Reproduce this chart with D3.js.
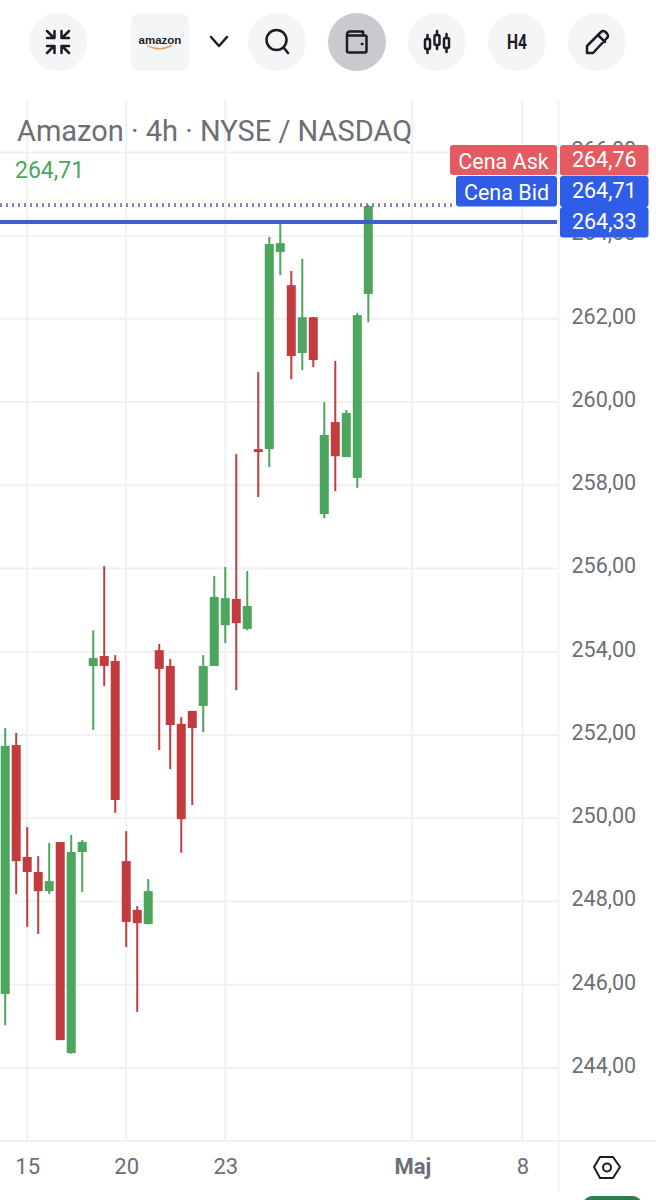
<!DOCTYPE html>
<html>
<head>
<meta charset="utf-8">
<script src="https://cdn.jsdelivr.net/npm/d3@7"></script>
<style>
html, body { margin: 0; padding: 0; background: #fff; }
svg { display: block; font-family: Roboto, sans-serif; }
</style>
</head>
<body>
<svg id="chart" width="656" height="1200"></svg>
<script>
// candles
var opens  = [245.78,251.76,249.07,248.71,248.25,249.43,244.36,249.19,253.66,253.90,253.78,248.97,247.80,247.46,254.04,253.66,252.27,252.58,252.70,253.66,254.64,255.27,254.55,258.87,258.87,263.61,262.81,261.18,262.04,257.31,259.52,258.68,258.18,262.60];
var closes = [251.74,248.97,248.71,248.25,248.49,244.67,249.19,249.43,253.85,253.66,250.44,247.51,247.48,248.25,253.59,252.24,249.98,252.17,253.66,255.32,255.29,254.69,255.10,258.80,263.80,263.82,261.11,262.04,261.01,259.21,258.70,259.74,262.09,264.71];
var highs  = [252.17,252.05,249.79,249.09,249.41,249.43,249.60,249.48,254.52,256.06,253.92,249.69,247.89,248.54,254.19,253.83,252.43,252.58,253.92,255.82,256.04,258.75,255.94,260.72,263.97,264.35,263.15,263.44,262.04,260.00,260.99,259.81,262.14,264.74];
var lows   = [245.03,248.18,247.39,247.22,248.18,244.67,244.34,248.23,252.12,253.18,250.13,246.91,245.35,247.45,251.64,251.18,249.17,250.32,252.07,253.66,254.21,253.08,254.52,257.72,258.44,263.05,260.55,260.77,260.84,257.21,257.86,258.68,257.94,261.92];

var priceTicks = [244,246,248,250,252,254,256,258,260,262,264,266];
var dateTickIdx = [2,11,20,37,47];
var dateTickLabels = ['15','20','23','Maj','8'];

var askPrice = 264.76;
var bidPrice = 264.71;
var lastPrice = 264.33;

var GREEN = '#4ca65d', RED = '#c23c3f', GRID = '#f1f1f3', TXT = '#6b6f76';
var TAG_RED = '#e45c62', TAG_BLUE = '#2f5de8', INK = '#1c1d21';

var svg = d3.select('#chart');
var plEU = d3.formatLocale({decimal: ',', thousands: ' ', grouping: [3], currency: ['', '']});
var fmt = plEU.format('.2f');

var y = d3.scaleLinear().domain([244, 266]).range([1068, 152.4]);
var x = d3.scaleLinear().domain([0, 33]).range([5.2, 368.3]);

var plotRight = 558.5, plotTop = 99, plotBottom = 1141;

/* ------- GRID -------*/

svg.append('g').selectAll('line').data(priceTicks).enter().append('line')
    .attr('x1', 0).attr('x2', plotRight)
    .attr('y1', function (d) { return y(d); }).attr('y2', function (d) { return y(d); })
    .attr('stroke', GRID).attr('stroke-width', 2);

svg.append('g').selectAll('line').data(dateTickIdx).enter().append('line')
    .attr('x1', function (d) { return x(d); }).attr('x2', function (d) { return x(d); })
    .attr('y1', plotTop).attr('y2', plotBottom)
    .attr('stroke', GRID).attr('stroke-width', 2);

svg.append('line').attr('x1', 0).attr('x2', 656).attr('y1', plotBottom).attr('y2', plotBottom)
    .attr('stroke', GRID).attr('stroke-width', 2);
svg.append('line').attr('x1', plotRight).attr('x2', plotRight).attr('y1', plotTop).attr('y2', 1192)
    .attr('stroke', GRID).attr('stroke-width', 1.5);

/* ------- AXES -------*/

var yAxis = d3.axisRight(y).tickValues(priceTicks).tickFormat(fmt).tickSize(0).tickPadding(13);
var gy = svg.append('g').attr('transform', 'translate(' + plotRight + ',0)').call(yAxis);
gy.select('.domain').remove();
gy.selectAll('text').attr('fill', TXT).attr('font-size', 21.5).attr('font-family', 'Roboto, sans-serif')
    .attr('dy', '0.2em');

var xAxis = d3.axisBottom(x).tickValues(dateTickIdx)
    .tickFormat(function (d, i) { return dateTickLabels[i]; }).tickSize(0).tickPadding(17);
var gx = svg.append('g').attr('transform', 'translate(0,' + plotBottom + ')').call(xAxis);
gx.select('.domain').remove();
gx.selectAll('text').attr('fill', TXT).attr('font-size', 22).attr('font-family', 'Roboto, sans-serif')
    .attr('font-weight', function (d, i) { return dateTickLabels[i] == 'Maj' ? 700 : 400; });

/* ------- CANDLES -------*/

var bars = svg.append('g').selectAll('g').data(opens).enter().append('g');
bars.append('line')
    .attr('x1', function (d, i) { return x(i); }).attr('x2', function (d, i) { return x(i); })
    .attr('y1', function (d, i) { return y(highs[i]); }).attr('y2', function (d, i) { return y(lows[i]); })
    .attr('stroke', function (d, i) { return closes[i] >= d ? GREEN : RED; })
    .attr('stroke-width', 2);
bars.append('rect')
    .attr('x', function (d, i) { return x(i) - 4.5; })
    .attr('width', 9)
    .attr('y', function (d, i) { return y(Math.max(d, closes[i])); })
    .attr('height', function (d, i) { return Math.abs(y(d) - y(closes[i])); })
    .attr('fill', function (d, i) { return closes[i] >= d ? GREEN : RED; });

/* ------- PRICE LINES -------*/

svg.append('line').attr('x1', 0).attr('x2', 456).attr('y1', y(askPrice)).attr('y2', y(askPrice))
    .attr('stroke', '#b5525e').attr('stroke-width', 1.5).attr('stroke-dasharray', '2 4');
svg.append('line').attr('x1', 0).attr('x2', 456).attr('y1', y(bidPrice)).attr('y2', y(bidPrice))
    .attr('stroke', '#4a5bb8').attr('stroke-width', 1.5).attr('stroke-dasharray', '2 4');
svg.append('line').attr('x1', 0).attr('x2', 557).attr('y1', y(lastPrice)).attr('y2', y(lastPrice))
    .attr('stroke', '#3e5fd0').attr('stroke-width', 4);

// price tags
function tag(x0, x1, y0, y1, fill, label, dy) {
    svg.append('rect').attr('x', x0).attr('y', y0).attr('width', x1 - x0).attr('height', y1 - y0)
        .attr('rx', 3).attr('fill', fill);
    svg.append('text').attr('x', (x0 + x1) / 2).attr('y', (y0 + y1) / 2 + dy)
        .attr('text-anchor', 'middle').attr('fill', '#fff').attr('font-size', 21.5).text(label);
}
tag(450, 557, 145, 175, TAG_RED, 'Cena Ask', 8.5);
tag(456, 557, 176, 206.5, TAG_BLUE, 'Cena Bid', 8.5);
tag(560, 648.5, 145, 175.5, TAG_RED, fmt(askPrice), 6.5);
tag(560, 648.5, 207, 237.5, TAG_BLUE, fmt(lastPrice), 6.5);
tag(560, 648.5, 176, 207, TAG_BLUE, fmt(bidPrice), 6.5);

/* ------- TITLE -------*/

svg.append('text').attr('x', 17).attr('y', 141).attr('fill', TXT).attr('font-size', 29)
    .text('Amazon · 4h · NYSE / NASDAQ');
svg.append('text').attr('x', 15).attr('y', 178).attr('fill', GREEN).attr('font-size', 23)
    .text(fmt(closes[closes.length - 1]));

/* ------- TOOLBAR -------*/

function icon(cx, fill) {
    svg.append('circle').attr('cx', cx).attr('cy', 42).attr('r', 29).attr('fill', fill || '#f4f5f7');
    return svg.append('g').attr('transform', 'translate(' + cx + ',42)')
        .attr('fill', 'none').attr('stroke', INK).attr('stroke-width', 2.5)
        .attr('stroke-linecap', 'round').attr('stroke-linejoin', 'round');
}

// collapse
var ic = icon(58);
ic.append('path').attr('d', 'M-11,-11 L-4,-4 M-11,-4 H-3.5 V-11 M11,-11 L4,-4 M11,-4 H3.5 V-11 M-11,11 L-4,4 M-11,4 H-3.5 V11 M11,11 L4,4 M11,4 H3.5 V11');

// amazon logo
svg.append('rect').attr('x', 131).attr('y', 13).attr('width', 58).attr('height', 58).attr('rx', 9).attr('fill', '#f4f5f7');
svg.append('text').attr('x', 160).attr('y', 44).attr('text-anchor', 'middle').attr('font-size', 11.5)
    .attr('font-weight', 700).attr('font-family', '"Liberation Sans", sans-serif').attr('fill', '#222').text('amazon');
svg.append('path').attr('d', 'M147,45.5 Q159,52 172,45.5').attr('fill', 'none').attr('stroke', '#e8a04a').attr('stroke-width', 1.4);

// chevron
svg.append('path').attr('d', 'M211,37 L219,46 L227,37').attr('fill', 'none').attr('stroke', INK)
    .attr('stroke-width', 2.5).attr('stroke-linecap', 'round').attr('stroke-linejoin', 'round');

// search
ic = icon(277);
ic.append('circle').attr('cx', -0.5).attr('cy', -2).attr('r', 10);
ic.append('path').attr('d', 'M7,6 L11,11');

// wallet
ic = icon(357, '#c9cacd');
ic.append('path').attr('d', 'M-10,-8 V9 Q-10,10.5 -8,10.5 H8 Q9.5,10.5 9.5,9 V-5 Q9.5,-6.5 8,-6.5 H-10 M-10,-7 Q-10,-10.5 -7,-10.5 H6 V-6.5');
ic.append('circle').attr('cx', 5).attr('cy', 2).attr('r', 1).attr('fill', INK).attr('stroke-width', 1);

// candle icon
ic = icon(437);
[[-9.5, 2], [0, -2], [9.5, 1]].forEach(function (c) {
    ic.append('rect').attr('x', c[0] - 2.5).attr('y', c[1] - 5).attr('width', 5).attr('height', 10).attr('rx', 1.5);
    ic.append('path').attr('d', 'M' + c[0] + ',' + (c[1] - 5) + ' v-4 M' + c[0] + ',' + (c[1] + 5) + ' v4');
});

// timeframe
icon(517);
svg.append('text').attr('x', 517).attr('y', 49).attr('text-anchor', 'middle').attr('font-size', 21)
    .attr('font-weight', 700).attr('font-family', 'Roboto, sans-serif').attr('textLength', 20).attr('lengthAdjust', 'spacingAndGlyphs')
    .attr('fill', INK).text('H4');

// pencil
ic = icon(597);
ic.append('path').attr('d', 'M-10,11 L-10,4 L4,-10 Q6,-12 8.5,-10 L10,-8.5 Q12,-6 10,-4 L-4,11 Z M1,-7 L8,0');

// settings hexagon
svg.append('path').attr('d', 'M594,1167 L600,1157 L613,1157 L620,1167 L613,1178 L600,1178 Z')
    .attr('fill', 'none').attr('stroke', INK).attr('stroke-width', 2).attr('stroke-linejoin', 'round');
svg.append('circle').attr('cx', 607).attr('cy', 1167.5).attr('r', 4)
    .attr('fill', 'none').attr('stroke', INK).attr('stroke-width', 2);

// green pill cut off at the bottom edge
svg.append('rect').attr('x', 583).attr('y', 1196).attr('width', 59).attr('height', 20).attr('rx', 9).attr('fill', '#2e7d4a');
</script>
</body>
</html>
